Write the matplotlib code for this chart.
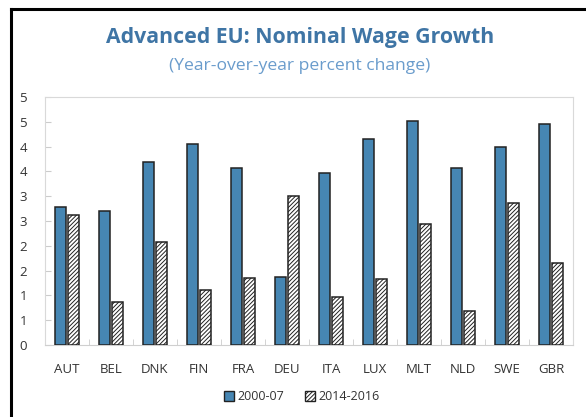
import numpy as np
import matplotlib.pyplot as plt
from matplotlib.ticker import FuncFormatter, MultipleLocator
from matplotlib.lines import Line2D

plt.rcParams['font.family'] = ['Open Sans', 'DejaVu Sans']
plt.rcParams['hatch.linewidth'] = 0.7
plt.rcParams['hatch.color'] = '#555555'

countries = ["AUT", "BEL", "DNK", "FIN", "FRA", "DEU", "ITA", "LUX", "MLT", "NLD", "SWE", "GBR"]
growth_2000_07 = [2.79, 2.71, 3.68, 4.05, 3.56, 1.37, 3.47, 4.15, 4.52, 3.56, 3.99, 4.46]
growth_2014_16 = [2.63, 0.86, 2.08, 1.10, 1.36, 3.00, 0.96, 1.33, 2.43, 0.69, 2.87, 1.66]
series_labels = ["2000-07", "2014-2016"]

blue = '#4686b3'
title_color = '#3f75a5'
sub_color = '#6a9ccc'

fig = plt.figure(figsize=(5.86, 4.17), dpi=100)
ax = fig.add_axes([45 / 586, 1 - 345 / 417, 528 / 586, 248 / 417])

x = np.arange(len(countries))
w = 0.25
gap = 0.02
ax.bar(x - w / 2 - gap, growth_2000_07, width=w, color=blue, edgecolor='#222222', linewidth=1.1, zorder=3)
ax.bar(x + w / 2 + gap, growth_2014_16, width=w, color='white', edgecolor='#222222', linewidth=1.1,
       hatch='////////', zorder=3)

ax.set_xlim(-0.5, len(countries) - 0.5)
ax.set_ylim(0, 5)
ax.yaxis.set_major_locator(MultipleLocator(0.5))
ax.yaxis.set_major_formatter(FuncFormatter(lambda v, p: f"{int(np.floor(v + 0.5 + 1e-9))}"))
ax.set_xticks(x)
ax.set_xticklabels(countries)
ax.set_xticks(np.arange(-0.5, len(countries), 1), minor=True)
ax.tick_params(axis='x', which='major', length=0, pad=13, labelsize=9.5, labelcolor='#333333')
ax.tick_params(axis='x', which='minor', direction='in', length=4, color='#cccccc')
ax.tick_params(axis='y', direction='in', length=4, color='#cccccc', pad=13, labelsize=9.5,
               labelcolor='#333333')
for s in ax.spines.values():
    s.set_color('#d9d9d9')
    s.set_linewidth(0.8)
ax.spines['bottom'].set_color('#cfcfcf')

fig.text(0.512, 1 - 38 / 417, "Advanced EU: Nominal Wage Growth", ha='center', va='center',
         fontsize=15.3, fontweight='bold', color=title_color)
fig.text(0.512, 1 - 66 / 417, "(Year-over-year percent change)", ha='center', va='center',
         fontsize=12.6, color=sub_color)

handles = [
    plt.Rectangle((0, 0), 1, 1, facecolor=blue, edgecolor='#222222', linewidth=1.0),
    plt.Rectangle((0, 0), 1, 1, facecolor='white', edgecolor='#222222', linewidth=1.0, hatch='////////'),
]
fig.legend(handles, series_labels, loc='center', bbox_to_anchor=(0.515, 1 - 397 / 417), ncol=2,
           frameon=False, fontsize=9, handlelength=0.8, handleheight=0.8, handletextpad=0.3,
           columnspacing=1.6, labelcolor='#333333')

# screenshot frame (left and top edges)
fig.add_artist(Line2D([11 / 586, 11 / 586], [0, 1 - 9 / 417], color='black', linewidth=2.2))
fig.add_artist(Line2D([11 / 586, 1], [1 - 9 / 417, 1 - 9 / 417], color='black', linewidth=2.2))

fig.savefig("out.png", dpi=100)
